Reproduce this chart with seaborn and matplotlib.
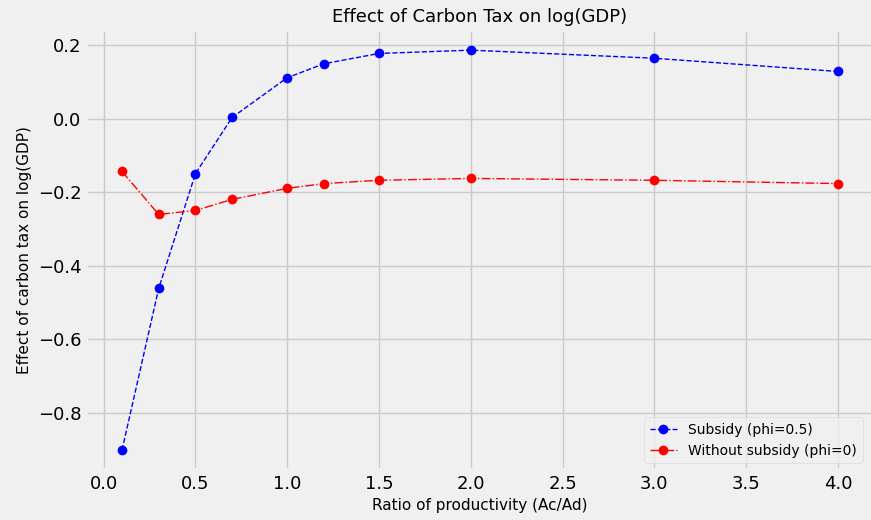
import numpy as np
import pandas as pd
import seaborn as sns
import matplotlib.pyplot as plt

# ratio of productivity Ac/Ad
ratio = [0.1, 0.3, 0.5, 0.7, 1.0, 1.2, 1.5, 2.0, 3.0, 4.0]
subsidy = [-0.902, -0.462, -0.150, 0.003, 0.111, 0.149, 0.177, 0.186, 0.164, 0.128]
no_subsidy = [-0.144, -0.261, -0.250, -0.220, -0.190, -0.177, -0.168, -0.163, -0.168, -0.177]

plt.style.use('fivethirtyeight')
plt.rcParams['font.family'] = ['DejaVu Sans']

fig, ax = plt.subplots(figsize=(8.71, 5.2), dpi=100)
fig.patch.set_facecolor('#f0f0f0')

df = pd.DataFrame({'ratio': ratio, 'subsidy': subsidy, 'no_subsidy': no_subsidy})

sns.lineplot(data=df, x='ratio', y='subsidy', ax=ax, color='blue', linestyle='--',
             linewidth=1, marker='o', markersize=7, markeredgewidth=0,
             label='Subsidy (phi=0.5)')
sns.lineplot(data=df, x='ratio', y='no_subsidy', ax=ax, color='red', linestyle='-.',
             linewidth=1, marker='o', markersize=7, markeredgewidth=0,
             label='Without subsidy (phi=0)')

ax.set_title('Effect of Carbon Tax on log(GDP)', fontsize=13)
ax.set_xlabel('Ratio of productivity (Ac/Ad)', fontsize=11)
ax.set_ylabel('Effect of carbon tax on log(GDP)', fontsize=11)
ax.tick_params(labelsize=13)
ax.set_xticks(np.arange(0, 4.01, 0.5))
ax.set_yticks([-0.8, -0.6, -0.4, -0.2, 0.0, 0.2])
ax.grid(True, color='#cbcbcb', linewidth=1)
ax.legend(loc='lower right', fontsize=10, frameon=True, facecolor='#f0f0f0',
          edgecolor='#d8d8d8', bbox_to_anchor=(0.995, 0.0))

# the original figure is cropped slightly on the right
fig.subplots_adjust(left=0.099, right=1.003, top=0.942, bottom=0.096)
fig.savefig('out.png', dpi=100, facecolor=fig.get_facecolor())
